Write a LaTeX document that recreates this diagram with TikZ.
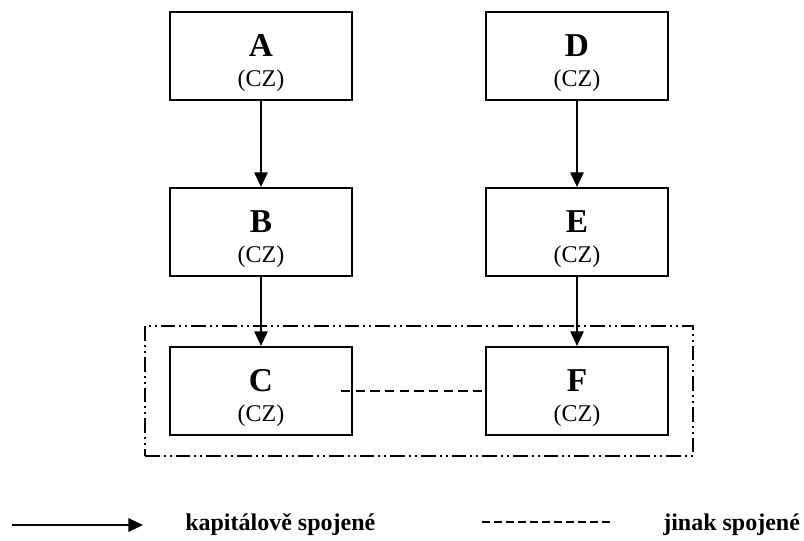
\documentclass[tikz,border=0pt]{standalone}
\usepackage{fontspec}
\setmainfont{Liberation Serif}
\usetikzlibrary{arrows.meta,fit}

% one drawing unit = one pixel of the 804 x 541 sheet, y grows downwards
\tikzset{
  firm/.style={draw, line width=1.6pt, rectangle, inner sep=0pt,
               minimum width=136.5pt, minimum height=66pt},
  letter/.style={inner sep=0pt, font=\fontsize{25}{25}\selectfont\bfseries},
  country/.style={inner sep=0pt, font=\fontsize{18}{18}\selectfont},
  capital/.style={line width=1.5pt, -{Triangle[length=11pt,width=10pt]}},
  other/.style={line width=1.8pt, dash pattern=on 7pt off 4pt},
  group/.style={draw, line width=1.3pt, rectangle, inner xsep=18pt, inner ysep=15pt,
                dash pattern=on 11pt off 3pt on 1.5pt off 3pt on 1.5pt off 3pt},
  legendtext/.style={inner sep=0pt, anchor=base west,
                     font=\fontsize{18}{18}\selectfont\bfseries},
}

% #1 node name, #2 centre x, #3 top y, #4 letter
\newcommand{\firmbox}[4]{%
  \node[firm] (#1) at (#2,#3+44) {};
  \node[letter,anchor=base] at (#2,#3+45) {#4};
  \node[country,anchor=base] at (#2,#3+75) {(CZ)};
}

\begin{document}
\begin{tikzpicture}[x=0.75pt,y=-0.75pt]
  \useasboundingbox (0,0) rectangle (804,541);

  % companies
  \firmbox{A}{261}{12}{A}
  \firmbox{D}{577}{12}{D}
  \firmbox{B}{261}{188}{B}
  \firmbox{E}{577}{188}{E}
  \firmbox{C}{261}{347}{C}
  \firmbox{F}{577}{347}{F}

  % capital links
  \draw[capital] (A) -- (B);
  \draw[capital] (B) -- (C);
  \draw[capital] (D) -- (E);
  \draw[capital] (E) -- (F);

  % other link between C and F
  \draw[other] ([xshift=-9pt]C.east) -- ([xshift=-2pt]F.west);

  % group boundary around C and F
  \node[group, fit=(C)(F)] (grp) {};

  % legend
  \coordinate (la1) at (12,525);
  \coordinate (la2) at (143,525);
  \draw[capital] (la1) -- (la2);
  \node[legendtext] (lt1) at (185,531) {kapitálově spojené};

  \coordinate (lb1) at (482,522);
  \coordinate (lb2) at (614,522);
  \draw[line width=1.7pt, dash pattern=on 6pt off 3pt] (lb1) -- (lb2);
  \node[legendtext] (lt2) at (663,531) {jinak spojené};
\end{tikzpicture}
\end{document}
